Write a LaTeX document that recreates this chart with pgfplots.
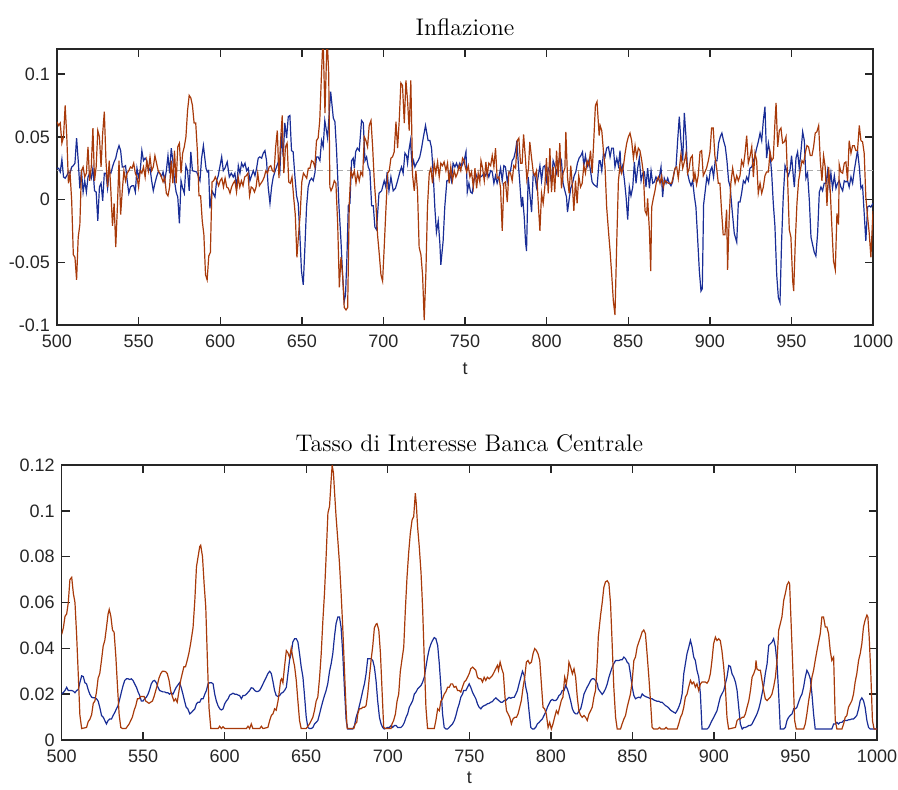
\documentclass[border=0pt]{standalone}
\usepackage{fontspec}
\usepackage{pgfplots}
\pgfplotsset{compat=1.18}
\newfontfamily\arialf{Liberation Sans}
\definecolor{bl}{RGB}{25,45,150}
\definecolor{orng}{RGB}{168,58,10}
\definecolor{axc}{RGB}{38,38,38}
\pgfplotsset{myax/.style={scale only axis, anchor=south west,
  xmin=500, xmax=1000, xtick={500,550,...,1000},
  axis line style={axc, line width=0.7pt},
  every tick/.style={axc, line width=0.7pt},
  major tick length=4pt, tick align=inside,
  ticklabel style={font=\arialf\fontsize{9}{10}\selectfont, text=axc},
  xticklabel style={yshift=-1.5pt},
  /pgf/number format/assume math mode=true,
  /pgf/number format/1000 sep={},
  scaled ticks=false,
  yticklabel style={/pgf/number format/fixed, /pgf/number format/precision=2},
  xlabel={t},
  xlabel style={font=\arialf\fontsize{9}{10}\selectfont, text=axc},
  title style={font=\fontsize{12}{14}\selectfont, yshift=-3pt},
}}
\begin{document}
\begin{tikzpicture}
\path[use as bounding box] (0,0) rectangle (449pt,394.5pt);
% ---------------- top -----------------
\begin{axis}[myax, at={(28.5pt,232pt)}, width=408pt, height=138pt,
  ymin=-0.1, ymax=0.12, ytick={-0.1,-0.05,0,0.05,0.1},
  xlabel style={yshift=-0.5pt},
  title={Inflazione}]
\addplot[gray!65, line width=0.4pt, dash pattern=on 3pt off 2pt] coordinates {(500,0.023)(1000,0.023)};
\addplot[bl, line width=0.6pt] coordinates {
(500,0.025)(501,0.025)(502,0.022)(503,0.032)(504,0.018)(505,0.017)(506,0.019)(507,0.022)(508,0.021)(509,0.026)
(510,0.027)(511,0.029)(512,0.049)(513,0.031)(514,0.009)(515,0.023)(516,0.006)(517,0.015)(518,0.006)(519,0.018)
(520,0.021)(521,0.017)(522,0.025)(523,0.007)(524,0.006)(525,-0.017)(526,0.010)(527,0.013)(528,-0.001)(529,0.021)
(530,0.021)(531,0.009)(532,0.022)(533,0.021)(534,0.026)(535,0.030)(536,0.033)(537,0.039)(538,0.043)(539,0.039)
(540,0.026)(541,0.026)(542,0.027)(543,0.015)(544,0.005)(545,0.010)(546,0.011)(547,0.011)(548,0.006)(549,0.025)
(550,0.018)(551,0.023)(552,0.039)(553,0.031)(554,0.033)(555,0.031)(556,0.023)(557,0.025)(558,0.015)(559,0.007)
(560,0.013)(561,0.018)(562,0.022)(563,0.021)(564,0.018)(565,0.022)(566,0.015)(567,0.023)(568,0.035)(569,0.021)
(570,0.041)(571,0.031)(572,0.015)(573,0.006)(574,0.002)(575,-0.019)(576,0.015)(577,0.009)(578,0.005)(579,0.027)
(580,0.023)(581,0.007)(582,0.038)(583,0.023)
(585.6,0.022)(587.6,0.015)(588.6,0.033)(589.7,0.043)(591.3,0.025)(592.1,0.022)(592.9,0.023)(593.7,-0.007)(595.0,0.007)(596.8,0.002)
(597.8,0.015)(598.8,0.019)(600.9,0.034)(601.9,0.023)(602.9,0.025)(604.3,0.030)(605.6,0.018)(606.8,0.021)(608.0,0.018)(609.0,0.021)
(610.1,0.009)(611.1,0.027)(612.1,0.021)(613.1,0.029)(614.1,0.026)(615.2,0.029)(616.2,0.023)(617.2,0.025)(618.2,0.015)(619.2,0.019)
(620.3,0.023)(621.3,0.019)(622.3,0.025)(623.3,0.033)(624.3,0.034)(625.4,0.033)(626.4,0.037)(627.4,0.039)(628.4,0.031)(629.4,0.010)
(630.5,-0.003)(631.5,0.010)(632.5,0.018)(633.5,0.022)(634.5,0.026)(635.6,0.030)(636.6,0.023)(637.6,0.053)(638.6,0.034)(639.6,0.061)
(640.7,0.049)(641.7,0.066)(642.7,0.067)(643.7,0.039)(644.7,0.038)(645.8,0.018)(646.8,0.003)(647.8,-0.003)(648.8,-0.028)(649.8,-0.057)
(650.9,-0.068)(651.9,-0.038)(652.9,-0.006)(653.9,0.010)(654.9,0.015)(656.0,0.017)(657.0,0.015)(658.0,0.021)(659.0,0.034)(660.0,0.034)
(661.1,0.031)(662.1,0.047)(663.1,0.042)(664.1,0.063)
(665.8,0.049)(667.7,0.086)(669.3,0.065)(670.3,0.062)(671.3,0.039)(672.8,-0.006)(674.0,-0.033)(675.0,-0.060)(676.0,-0.081)(676.8,-0.076)
(677.7,-0.044)(678.5,-0.005)(679.5,-0.003)(680.5,0.031)(681.5,0.033)(682.2,0.025)(683.0,0.038)(684.0,0.041)(685.2,0.039)(686.6,0.063)
(687.7,0.061)(688.7,0.031)(689.7,0.034)(690.7,0.026)(691.7,0.023)(692.8,-0.005)(693.8,-0.005)(694.8,-0.022)(695.8,-0.024)(697.3,0.005)
(698.9,0.007)(700.5,0.015)(701.5,0.010)(702.3,0.022)(703.4,0.007)(704.6,0.018)(706.0,0.007)(707.4,0.009)(708.7,0.015)(710.1,0.022)
(711.1,0.026)(712.1,0.021)(713.2,0.037)(714.2,0.035)(714.8,0.029)(715.6,0.039)(716.6,0.047)(717.6,0.026)(718.5,0.031)(719.3,0.026)
(720.3,0.029)(721.3,0.031)(722.3,0.034)(723.4,0.041)(724.4,0.049)(725.8,0.059)(727.4,0.047)(728.5,0.047)(729.5,0.041)(730.5,0.021)
(731.5,-0.006)(732.5,-0.026)(733.6,-0.017)(734.6,-0.035)(735.2,-0.052)(736.6,-0.033)(737.6,-0.006)(738.9,0.015)(739.7,0.015)(740.7,0.021)
(741.7,0.015)(742.7,0.029)(743.8,0.026)(744.8,0.029)(745.8,0.025)(746.8,0.029)(747.8,0.026)(749.5,0.031)
(750.6,0.038)(751.4,0.006)(752.4,0.013)(753.4,0.006)(754.4,0.005)(755.5,0.015)(756.5,0.021)(757.5,0.017)(758.5,0.019)(759.5,0.018)
(760.6,0.019)(761.6,0.021)(762.6,0.019)(763.6,0.022)(764.6,0.018)(765.7,0.023)(766.7,0.022)(767.7,0.013)(768.7,0.019)(769.7,0.013)
(770.8,0.018)(771.8,0.025)(772.8,0.015)(773.8,0.027)(774.8,0.026)(775.9,0.014)(776.9,0.021)(777.9,0.023)(778.9,0.031)(779.9,0.033)
(781.0,0.039)(781.8,0.047)(782.6,0.030)(783.6,0.013)(784.6,-0.006)(785.3,0.002)(786.3,-0.014)(787.1,-0.034)(787.7,-0.041)(788.7,0.018)
(789.7,0.005)(790.8,-0.010)(791.8,0.021)(792.8,0.019)(793.8,0.010)(794.8,0.018)(795.9,0.027)(796.9,0.015)(797.9,0.026)(798.9,0.027)
(799.9,0.015)(801.0,0.025)(802.0,0.022)(803.0,0.013)(804.0,0.031)(805.0,0.027)(806.1,0.021)(807.1,0.027)(808.1,0.035)(809.1,0.031)
(810.1,0.013)(811.2,0.007)(812.2,0.002)(812.8,-0.010)(813.8,0.000)(814.8,0.009)(815.9,0.013)(816.9,0.019)(817.9,0.022)(818.9,0.029)
(819.9,0.033)(821.0,0.035)(822.0,0.038)(822.8,0.027)(823.8,0.035)(824.8,0.026)(825.9,0.031)(826.9,0.023)(827.9,0.014)(828.9,0.012)
(829.9,0.011)(830.9,0.010)(832.2,0.031)
(832.8,0.031)(833.8,0.023)(834.8,0.037)(835.8,0.034)(836.8,0.041)(837.9,0.042)(838.9,0.034)(839.9,0.041)(840.9,0.041)(841.9,0.026)
(843.0,0.033)(844.0,0.027)(845.0,0.039)(845.6,0.023)(846.6,0.027)(847.7,0.015)(848.7,0.002)(849.7,-0.016)(850.7,0.010)(851.7,0.003)
(852.8,0.010)(853.8,0.030)(854.8,0.013)(855.8,0.025)(856.8,0.033)(857.9,0.015)(858.9,0.021)(859.9,0.022)(860.9,0.010)(861.9,0.025)
(863.0,0.009)(864.0,0.023)(865.0,0.013)(866.0,0.014)(867.0,0.018)(868.1,0.015)(869.1,0.018)(870.1,0.026)(871.1,0.002)(872.1,0.017)
(873.2,0.013)(874.2,0.017)(875.2,0.013)(876.2,0.011)(877.2,0.014)(878.3,0.023)(879.3,0.026)(880.3,0.047)(881.3,0.066)(882.3,0.047)
(883.4,0.031)(884.4,0.069)(885.4,0.050)(886.4,0.021)(887.4,0.015)(888.5,0.011)(889.5,0.015)(890.5,0.003)(891.5,-0.006)(892.5,-0.030)
(893.6,-0.057)(894.6,-0.073)(895.4,-0.071)(896.2,-0.004)(897.2,0.007)(898.2,0.018)(899.3,0.013)(900.3,0.023)(901.3,0.026)(902.3,0.018)
(903.3,0.031)(904.4,0.031)(905.4,0.045)(906.4,0.050)(907.4,0.053)(908.4,0.047)(909.5,0.042)(910.5,0.031)(911.5,0.015)(912.5,0.010)
(913.5,-0.006)(915.0,-0.027)
(916.5,-0.034)(917.5,-0.002)(918.5,-0.002)(919.5,0.005)(920.6,0.015)(921.6,0.013)(922.6,0.018)(923.6,0.015)(924.6,0.025)(925.7,0.026)
(926.7,0.031)(927.7,0.035)(928.7,0.041)(929.7,0.046)(930.8,0.053)(931.8,0.047)(932.8,0.063)(933.8,0.074)(934.8,0.033)(935.9,0.045)
(936.9,0.037)(937.9,0.021)(938.9,-0.003)(939.9,-0.021)(941.0,-0.060)(942.0,-0.078)(943.0,-0.082)(944.0,-0.033)(945.0,0.002)(946.1,0.027)
(947.1,0.023)(948.1,0.019)(949.1,0.023)(950.1,0.035)(951.2,0.018)(951.8,0.010)(952.8,0.033)(953.8,0.038)(954.8,0.025)(955.9,0.039)
(956.9,0.054)(957.9,0.047)(958.9,0.017)(959.9,0.021)(961.0,-0.001)(962.0,-0.030)(963.0,-0.036)(964.0,-0.042)(965.0,-0.045)(966.1,-0.026)
(967.1,0.006)(968.1,0.010)(969.1,0.007)(970.1,0.013)(971.2,0.013)(972.2,0.023)(973.2,0.010)(974.2,0.021)(975.2,0.009)(976.3,0.019)
(977.3,0.009)(978.3,0.013)(979.3,0.015)(980.3,0.010)(981.4,0.007)(982.4,0.015)(983.4,0.014)(984.4,0.015)(985.4,0.010)(986.5,0.018)
(987.5,0.013)(988.5,0.023)(989.5,0.031)(990.5,0.039)(991.6,0.026)(992.6,0.009)(993.6,0.011)(994.6,-0.011)(995.6,-0.033)(996.7,-0.006)
(997.7,-0.005)(998.7,-0.006)(1000,-0.003)
};
\addplot[orng, line width=0.6pt] coordinates {
(500,0.062)(501,0.059)(502,0.061)(503,0.045)(504,0.050)(505,0.075)(506,0.050)(507,0.013)(508,0.021)(509,-0.001)
(510,-0.044)(511,-0.046)(512,-0.064)(513,-0.030)(514,-0.020)(515,0.023)(516,0.026)(517,0.018)(518,0.021)(519,0.042)
(520,0.015)(521,0.026)(522,0.057)(523,0.015)(524,0.026)(525,0.055)(526,0.050)(527,0.026)(528,0.053)(529,0.070)
(530,0.031)(531,0.010)(532,0.031)(533,0.007)(534,-0.021)(535,-0.003)(536,-0.038)(537,-0.006)(538,0.031)(539,-0.012)
(540,0.007)(541,0.023)(542,0.015)(543,0.021)(544,0.023)(545,0.026)(546,0.025)(547,0.029)(548,0.021)(549,0.018)
(550,0.010)(551,0.023)(552,0.021)(553,0.026)(554,0.018)(555,0.031)(556,0.023)(557,0.034)(558,0.023)(559,0.026)
(560,0.035)(561,0.029)(562,0.023)(563,0.021)(564,0.018)(565,0.014)(566,0.018)(567,0.005)(568,0.003)(569,0.010)
(570,0.031)(571,0.013)(572,0.039)(573,0.013)(574,0.042)(575,0.045)(576,0.021)(577,0.037)(578,0.042)(579,0.050)
(580,0.071)(581,0.083)(582,0.081)(583,0.075)(584,0.061)(585,0.061)(586,0.039)(587,0.003)(588,0.003)(589,-0.017)
(590,-0.028)(591,-0.060)(592,-0.064)(593,-0.045)(594,-0.042)(595,0.014)(596,0.015)(597,0.018)(598,0.015)(599,0.011)
(600,0.015)(601,0.017)(602,0.010)(603,0.017)(604,0.010)(605,0.009)(606,0.005)(607,0.010)(608,0.013)(609,0.015)
(610,0.006)(611,0.018)(612,0.010)(613,0.015)(614,0.011)(615,0.018)(616,0.019)(617,0.021)(618,0.003)(619,0.010)
(620,0.009)(621,0.006)(622,0.010)(623,0.021)(624,0.011)(625,0.013)(626,0.015)(627,0.018)(628,0.023)(629,0.021)
(630,0.026)(631,0.027)(632,0.023)(633,0.022)(634,0.042)(635,0.055)(636,0.017)(637,0.047)(638,0.067)(639,0.021)
(640,0.042)(641,0.045)(642,0.014)(643,0.013)(644,0.018)(645,0.002)(646,-0.012)(647,-0.046)(648,-0.028)(649,-0.012)
(650,0.014)(651,0.021)(652,0.019)(653,0.017)(654,0.025)(655,0.025)(656,0.031)(657,0.030)(658,0.026)(659,0.047)
(660,0.049)(661,0.063)(662,0.098)(663,0.130)(664.2,0.069)(665.5,0.130)(666.5,0.100)(667.2,0.010)
(667.9,0.007)(668.9,0.010)(669.9,0.015)(670.9,0.013)(672.0,-0.020)(673.0,-0.070)(674.0,-0.046)(675.0,-0.060)(676.0,-0.086)(677.1,-0.088)
(678.1,-0.086)(679.1,-0.003)(680.1,0.023)(681.1,0.018)(682.2,0.023)(683.2,0.013)(684.2,0.021)(685.2,0.015)(686.2,0.022)(687.3,0.019)
(688.3,0.050)(689.3,0.047)(690.3,0.042)(691.3,0.059)(692.4,0.063)(693.4,0.042)(694.4,0.015)(695.4,-0.003)(696.4,-0.028)(697.5,-0.044)
(698.5,-0.060)(699.5,-0.065)(700.5,-0.038)(701.5,-0.009)(702.6,0.021)(703.6,0.023)(704.6,0.033)(705.6,0.034)(706.6,0.038)(707.7,0.062)
(708.7,0.041)(709.7,0.063)(710.7,0.093)(711.7,0.091)(712.8,0.061)(713.8,0.095)(714.8,0.079)(715.8,0.055)(716.8,0.095)(717.9,0.019)
(718.9,0.007)(719.9,0.023)(720.9,0.007)(721.9,-0.038)(723.0,-0.044)(724.0,-0.060)(725.0,-0.096)(726.0,-0.060)(727.0,-0.006)(728.1,0.021)
(729.1,0.025)(730.1,0.013)(731.1,0.029)(732.1,0.021)(733.2,0.030)(734.2,0.018)(735.2,0.029)(736.2,0.027)(737.2,0.030)(738.3,0.023)
(739.3,0.029)(740.3,0.013)(741.3,0.026)(742.3,0.015)(743.4,0.023)(744.4,0.018)(745.4,0.021)(746.4,0.027)(747.4,0.023)(748.5,0.033)
(749.5,0.031)
(750.0,0.027)(751.0,0.022)(752.0,0.027)(753.0,0.018)(754.0,0.022)(755.1,0.010)(756.1,0.025)(757.1,0.009)(758.1,0.021)(759.1,0.014)
(759.8,0.031)(760.8,0.025)(761.8,0.015)(762.8,0.030)(763.6,0.019)(764.6,0.029)(765.7,0.027)(766.7,0.035)(767.7,0.026)(768.7,0.041)
(769.7,0.017)(770.8,0.018)(771.8,0.009)(772.8,-0.025)(773.8,0.013)(774.8,0.014)(775.9,-0.002)(776.9,0.022)(777.9,0.021)(778.9,0.015)
(779.9,0.027)(781.0,0.025)(782.0,0.047)(783.0,0.049)(784.0,0.029)(785.0,0.029)(785.9,0.052)(786.9,0.035)(787.9,0.016)(788.9,0.025)
(789.7,0.046)(790.8,0.033)(791.8,0.022)(792.8,0.019)(793.8,0.023)(794.8,-0.001)(795.9,-0.025)(796.9,0.005)(797.9,-0.003)(798.9,0.010)
(799.9,0.033)(801.0,0.005)(802.0,0.041)(803.0,0.006)(804.0,0.026)(805.0,0.006)(806.1,0.039)(807.1,0.018)(808.1,0.045)(809.1,0.009)
(810.1,0.021)(811.2,0.025)(811.8,0.054)(812.8,0.018)(813.8,0.005)(814.8,0.027)(815.9,0.009)(816.7,-0.009)(817.7,0.015)(818.7,-0.003)
(819.7,0.019)(820.8,0.010)(821.8,0.013)(822.8,0.027)(823.8,0.021)(824.8,0.031)(825.9,0.027)(826.9,0.039)(827.9,0.021)(828.9,0.047)
(829.9,0.075)(830.9,0.078)(832.2,0.051)
(832.8,0.059)(833.8,0.055)(834.8,0.039)(835.8,0.026)(836.8,-0.006)(837.9,-0.025)(838.9,-0.041)(839.9,-0.060)(840.9,-0.081)(841.9,-0.092)
(843.0,-0.033)(844.0,0.015)(845.0,0.027)(846.0,0.021)(847.0,0.026)(848.1,0.037)(849.1,0.045)(850.1,0.050)(851.1,0.053)(852.1,0.047)
(853.2,0.033)(854.2,0.043)(855.2,0.034)(856.2,0.041)(857.2,0.039)(858.3,0.031)(859.3,0.021)(860.3,-0.009)(861.3,-0.012)(861.9,0.001)
(863.0,-0.025)(863.8,-0.057)(864.4,-0.006)(865.4,0.001)(866.4,0.007)(867.4,0.015)(868.5,0.018)(869.5,0.013)(870.5,0.019)(871.5,0.010)
(872.5,0.015)(873.6,0.014)(874.6,0.013)(875.6,0.013)(876.6,0.013)(877.6,0.018)(878.7,0.025)(879.7,0.026)(880.7,0.017)(881.7,0.029)
(882.3,0.036)(883.4,0.025)(884.4,0.030)(885.4,0.037)(886.4,0.021)(887.4,0.025)(888.2,0.033)(889.3,0.035)(890.1,0.014)(890.9,0.021)
(891.9,0.012)(892.9,0.019)(894.0,0.038)(895.0,0.039)(896.0,0.019)(897.0,0.022)(898.0,0.025)(899.1,0.031)(900.1,0.038)(901.1,0.057)
(902.1,0.057)(903.1,0.035)(904.2,0.025)(905.2,0.013)(906.2,0.013)(907.2,-0.009)(908.2,-0.028)(909.3,-0.028)(910.3,-0.008)(910.9,-0.056)
(911.9,-0.014)(912.9,0.013)(914.0,0.025)
(915.5,0.013)(916.5,0.019)(917.5,0.015)(918.5,0.019)(919.5,0.031)(920.6,0.027)(921.6,0.037)(922.6,0.051)(923.6,0.029)(924.6,0.034)
(925.7,0.042)(926.7,0.018)(927.7,0.037)(928.7,0.031)(929.7,0.005)(930.8,0.013)(931.8,0.005)(932.8,0.010)(933.8,0.019)(934.8,0.022)
(935.9,0.022)(936.9,0.038)(937.9,0.031)(938.9,0.033)(939.9,0.061)(940.6,0.077)(941.6,0.042)(942.6,0.055)(943.6,0.057)(944.6,0.045)
(945.7,0.046)(946.7,0.050)(947.7,0.015)(948.7,-0.024)(949.7,-0.030)(950.8,-0.065)(951.4,-0.073)(952.4,-0.033)(953.4,-0.003)(954.4,0.015)
(955.4,0.023)(956.5,0.031)(957.5,0.029)(958.5,0.037)(959.5,0.043)(960.5,0.042)(961.6,0.035)(962.6,0.035)(963.6,0.042)(964.6,0.053)
(965.6,0.054)(966.7,0.059)(967.7,0.031)(968.7,0.015)(969.7,0.035)(970.7,0.026)(971.8,-0.005)(972.8,0.026)(973.8,0.007)(974.8,-0.022)
(975.8,-0.049)(976.9,-0.056)(977.9,-0.011)(978.9,-0.020)(979.3,0.028)(980.3,0.022)(981.4,0.021)(982.4,0.029)(983.4,0.030)(984.4,0.015)
(985.4,0.047)(986.5,0.037)(987.5,0.043)(988.5,0.043)(989.5,0.039)(990.5,0.039)(991.6,0.059)(992.6,0.047)(993.6,0.046)(994.6,0.037)
(995.6,0.002)(996.7,-0.014)(997.7,-0.027)(998.7,-0.046)(1000,-0.009)
};
\end{axis}
% ---------------- bottom -----------------
\begin{axis}[myax, at={(30.8pt,24.5pt)}, width=407.7pt, height=137.5pt,
  ymin=0, ymax=0.12, ytick={0,0.02,0.04,0.06,0.08,0.1,0.12},
  xlabel style={yshift=2.5pt},
  title={Tasso di Interesse Banca Centrale}]
\addplot[bl, line width=0.6pt] coordinates {
(500.0,0.020)(501.1,0.0208)(502.1,0.0216)(503.1,0.023)(504.1,0.0216)(505.1,0.0216)(506.2,0.0216)(507.2,0.0213)(508.2,0.0206)(509.2,0.0216)
(510.2,0.022)(511.2,0.025)(512.3,0.028)(513.3,0.0277)(514.3,0.025)(515.3,0.0245)(516.3,0.022)(517.3,0.020)(518.4,0.0187)(519.4,0.0184)
(520.4,0.0184)(521.4,0.018)(522.4,0.017)(523.4,0.0143)(524.5,0.0107)(525.5,0.010)(526.5,0.0085)(527.5,0.007)(528.5,0.0085)(529.6,0.0092)
(530.6,0.0092)(531.6,0.0107)(532.6,0.012)(533.6,0.0136)(534.6,0.015)(535.7,0.018)(536.7,0.021)(537.7,0.0238)(538.7,0.026)(539.7,0.0267)
(540.8,0.0267)(541.8,0.0264)(542.8,0.0267)(543.8,0.026)(544.8,0.0245)(545.9,0.023)(546.9,0.021)(547.9,0.0194)(548.9,0.017)(549.9,0.017)
(550.9,0.018)(552.0,0.0187)(553.0,0.020)(554.0,0.022)(555.0,0.0245)(556.0,0.0257)(557.0,0.026)(558.1,0.025)(559.1,0.023)(560.1,0.0216)
(561.1,0.0213)(562.1,0.021)(563.2,0.021)(564.2,0.0206)(565.2,0.0206)(566.2,0.020)(567.2,0.0206)(568.3,0.020)(569.3,0.0216)(570.3,0.023)
(571.3,0.024)(572.3,0.025)(573.3,0.023)(574.4,0.020)(575.4,0.017)(576.4,0.0143)(577.4,0.0136)
(578.6,0.0114)(579.6,0.012)(580.6,0.0128)(581.7,0.0136)(582.7,0.0158)(583.7,0.0165)(584.7,0.0165)(585.7,0.018)(586.8,0.018)(587.8,0.020)
(588.8,0.0216)(589.8,0.0245)(590.8,0.025)(591.9,0.025)(592.9,0.0245)(593.9,0.020)(594.9,0.017)(595.9,0.015)(597.0,0.0136)(598.0,0.0131)
(599.0,0.0136)(600.0,0.0158)(601.0,0.017)(602.1,0.018)(603.1,0.0196)(604.1,0.020)(605.1,0.0204)(606.2,0.020)(607.2,0.020)(608.2,0.0196)
(609.2,0.0194)(610.2,0.018)(611.2,0.0194)(612.3,0.0194)(613.3,0.020)(614.3,0.0208)(615.3,0.0216)(616.3,0.0228)(617.4,0.0226)(618.4,0.0216)
(619.4,0.0212)(620.4,0.0212)(621.4,0.0216)(622.5,0.023)(623.5,0.0245)(624.5,0.026)(625.5,0.0274)(626.5,0.029)(627.6,0.030)(628.6,0.029)
(629.6,0.0255)(630.6,0.0216)(631.6,0.0194)(632.7,0.019)(633.7,0.0194)(634.7,0.0204)(635.7,0.0208)(636.7,0.0216)(637.8,0.023)(638.8,0.029)
(639.8,0.035)(640.8,0.0377)(641.8,0.0428)(642.9,0.0442)(643.9,0.0442)(644.9,0.0428)(645.9,0.0377)(646.9,0.032)(648.0,0.0274)(649.0,0.019)
(650.0,0.010)(651.0,0.0055)(652.0,0.005)(653.1,0.005)(654.1,0.0055)(655.1,0.007)(656.1,0.0077)(657.1,0.0085)(658.2,0.0114)(659.2,0.0143)
(660.2,0.017)(661.2,0.0194)(662.2,0.0216)(663.2,0.0245)
(664.3,0.030)(665.3,0.0333)(666.3,0.0377)(667.3,0.045)(668.3,0.0508)(669.4,0.0537)(670.4,0.0537)(671.4,0.049)(672.4,0.0377)(673.4,0.023)
(674.5,0.0085)(675.5,0.0048)(678.5,0.0048)(679.6,0.0063)(680.6,0.0099)(681.6,0.0121)(682.6,0.015)(683.6,0.018)(684.7,0.0216)(685.7,0.0245)
(686.7,0.0289)(687.7,0.0355)(688.7,0.0355)(689.8,0.0355)(690.8,0.0347)(691.8,0.0318)(692.8,0.026)(693.8,0.0172)(694.9,0.0099)(695.9,0.007)
(696.9,0.0055)(697.9,0.0048)(699.9,0.0055)(701.0,0.0055)(702.0,0.0063)(703.0,0.0055)(704.1,0.0063)(705.1,0.0063)(706.1,0.0055)(708.1,0.0055)
(709.2,0.0063)(710.2,0.0077)(711.2,0.0099)(712.2,0.0114)(713.2,0.0143)(714.3,0.0158)(715.3,0.0172)(716.3,0.0201)(717.3,0.0209)(718.3,0.0223)
(719.3,0.023)(720.4,0.0238)(721.4,0.0253)(722.4,0.0274)(723.4,0.0318)(724.4,0.0362)(725.5,0.0399)(726.5,0.042)(727.5,0.0435)(728.5,0.0447)
(729.5,0.0442)(730.6,0.0413)(731.6,0.0333)(732.6,0.0231)(733.6,0.0114)(734.6,0.0055)(735.7,0.0048)(736.7,0.0048)(737.7,0.0055)(738.7,0.0063)
(739.7,0.007)(740.8,0.0085)(741.8,0.0107)(742.8,0.0136)(743.8,0.0158)(744.8,0.0187)(745.9,0.0201)(746.5,0.0216)
(747.9,0.0216)(748.9,0.023)(749.9,0.0245)(750.9,0.023)(752.0,0.0208)(753.0,0.0194)(754.0,0.018)(755.0,0.0158)(756.0,0.0143)(757.1,0.0136)
(758.1,0.0146)(759.1,0.015)(760.1,0.0153)(761.1,0.0158)(762.2,0.016)(763.2,0.0165)(764.2,0.0168)(765.2,0.0177)(766.3,0.0184)(767.3,0.0177)
(768.3,0.0171)(769.3,0.0165)(770.3,0.0165)(771.4,0.0172)(772.4,0.0172)(773.4,0.018)(774.4,0.0186)(775.4,0.0182)(776.5,0.0186)(777.5,0.0186)
(778.5,0.020)(779.5,0.0216)(780.5,0.0245)(781.6,0.0274)(782.6,0.030)(783.6,0.0282)(784.6,0.0231)(785.6,0.020)(786.6,0.0128)(787.7,0.0055)
(788.7,0.0048)(789.7,0.0048)(790.7,0.0055)(791.7,0.007)(792.8,0.0077)(793.8,0.0085)(794.8,0.0092)(795.8,0.0107)(796.8,0.0121)(797.9,0.0143)
(798.9,0.0158)(799.9,0.0172)(800.9,0.0177)(801.9,0.0172)(803.0,0.0172)(804.0,0.018)(805.0,0.0194)(806.0,0.020)(807.0,0.0216)(808.1,0.0216)
(809.1,0.0238)(810.1,0.0223)(811.1,0.020)(812.1,0.0172)(813.2,0.0136)(814.2,0.0121)(815.2,0.0114)(816.2,0.0114)(817.2,0.0126)(818.3,0.0136)
(819.3,0.0165)(820.3,0.020)(821.3,0.0216)(822.3,0.0231)(823.4,0.0245)(824.4,0.026)(825.4,0.0267)(826.4,0.0267)(827.4,0.026)(828.5,0.0245)
(829.1,0.0223)
(830.5,0.0209)(831.5,0.0199)(832.5,0.0209)(833.5,0.0223)(834.6,0.0245)(835.6,0.0274)(836.6,0.0296)(837.6,0.0318)(838.6,0.0333)(839.7,0.0347)
(840.7,0.0347)(841.7,0.0347)(842.7,0.035)(843.7,0.035)(844.8,0.0362)(845.8,0.0355)(846.8,0.034)(847.8,0.0333)(848.8,0.0289)(849.9,0.0231)
(850.9,0.0194)(851.9,0.018)(852.9,0.0184)(853.9,0.0187)(855.0,0.0184)(856.0,0.0201)(857.0,0.0194)(858.0,0.019)(859.0,0.0187)(860.1,0.0184)
(861.1,0.018)(862.1,0.018)(863.1,0.0175)(864.1,0.0172)(865.2,0.0169)(866.2,0.0169)(867.2,0.0165)(868.2,0.0165)(869.2,0.0158)(870.3,0.015)
(871.3,0.0146)(872.3,0.014)(873.3,0.0131)(874.3,0.0126)(875.4,0.0121)(876.4,0.0117)(877.4,0.0128)(878.4,0.0143)(879.5,0.0165)(880.5,0.0201)
(881.5,0.0289)(882.5,0.0333)(883.5,0.0377)(884.6,0.0406)(885.6,0.0435)(886.6,0.0406)(887.6,0.0362)(888.6,0.0347)(889.6,0.0304)(890.7,0.0274)
(891.7,0.0201)(892.7,0.0048)(895.8,0.0048)(896.8,0.0055)(897.8,0.007)(898.8,0.0085)(899.9,0.0099)(900.9,0.0114)(901.9,0.0128)(902.9,0.0158)
(903.9,0.0187)(904.9,0.0201)(906.0,0.0216)(907.0,0.0245)(908.0,0.0274)
(909.1,0.0325)(910.1,0.0321)(911.1,0.0289)(912.2,0.0274)(913.2,0.0253)(914.2,0.0216)(915.2,0.0143)(916.2,0.007)(917.3,0.0048)(918.3,0.0055)
(919.3,0.0055)(920.3,0.0058)(921.3,0.0063)(922.4,0.0063)(923.4,0.007)(924.4,0.0085)(925.4,0.0099)(926.4,0.0114)(927.5,0.0136)(928.5,0.0165)
(929.5,0.0201)(930.5,0.0237)(931.5,0.0289)(932.6,0.0333)(933.6,0.0413)(934.6,0.042)(935.6,0.0427)(936.6,0.0442)(937.7,0.0406)(938.7,0.0333)
(939.7,0.0201)(940.7,0.0048)(942.8,0.0048)(943.8,0.0055)(944.8,0.0085)(945.8,0.0099)(946.8,0.0107)(947.9,0.0114)(948.9,0.0136)(949.9,0.0136)
(950.9,0.0143)(951.9,0.0165)(953.0,0.0187)(954.0,0.0201)(955.0,0.0231)(956.0,0.0274)(957.0,0.0304)(958.1,0.0289)(959.1,0.0267)(960.1,0.0201)
(961.1,0.0114)(962.1,0.0048)(972.3,0.0048)(973.4,0.007)(974.4,0.007)(975.4,0.0077)(976.4,0.007)(977.4,0.0077)(978.5,0.0077)(979.5,0.0085)
(980.5,0.0085)(981.5,0.0085)(982.5,0.0088)(983.6,0.0089)(984.6,0.0092)(985.6,0.0092)(986.6,0.0099)(987.6,0.0107)(988.7,0.0136)(989.7,0.0172)
(990.7,0.0184)(991.7,0.0172)(992.7,0.0143)(993.8,0.0085)(994.8,0.0055)(995.8,0.0048)(1000,0.0048)
};
\addplot[orng, line width=0.6pt] coordinates {
(500.0,0.046)(501.1,0.049)(502.1,0.054)(503.1,0.055)(504.1,0.060)(505.1,0.070)(506.2,0.071)(507.2,0.064)(508.2,0.060)(509.2,0.046)
(510.2,0.029)(511.2,0.011)(512.3,0.005)(515.3,0.0055)(516.3,0.008)(517.3,0.009)(518.4,0.011)(519.4,0.016)(520.4,0.017)(521.4,0.021)
(522.4,0.027)(523.4,0.029)(524.5,0.035)(525.5,0.041)(526.5,0.0435)(527.5,0.049)(528.5,0.055)(529.2,0.057)(530.2,0.054)(531.2,0.048)
(532.2,0.047)(533.3,0.036)(534.3,0.023)(535.3,0.011)(536.3,0.0055)(537.3,0.005)(539.4,0.005)(540.4,0.006)(541.4,0.007)(542.4,0.0085)
(543.4,0.010)(544.5,0.013)(545.5,0.015)(546.5,0.018)(547.5,0.018)(548.5,0.019)(549.6,0.019)(550.6,0.019)(551.6,0.017)(552.6,0.0165)
(553.6,0.016)(554.6,0.0165)(555.7,0.017)(556.7,0.019)(557.7,0.0215)(558.7,0.024)(559.7,0.027)(560.8,0.029)(561.8,0.030)(562.8,0.030)
(563.8,0.0298)(564.8,0.029)(565.9,0.026)(566.9,0.0215)(567.9,0.019)(568.9,0.017)(569.9,0.018)(570.9,0.0165)(572.0,0.0215)(573.0,0.026)
(574.0,0.029)(575.0,0.032)(576.0,0.032)(577.1,0.035)(578.1,0.038)(579.1,0.042)
(580.6,0.049)(581.7,0.061)(582.7,0.0756)(583.7,0.080)(584.7,0.0844)(585.3,0.085)(586.4,0.080)(587.4,0.068)(588.4,0.058)(589.4,0.035)
(590.4,0.014)(591.5,0.005)(596.0,0.005)(596.9,0.006)(598.0,0.005)(599.0,0.0058)(600.0,0.005)(613.3,0.005)(614.3,0.006)(615.3,0.005)
(616.3,0.007)(617.3,0.005)(621.5,0.005)(622.5,0.006)(623.5,0.005)(626.5,0.0055)(627.6,0.0085)(628.6,0.0107)(629.6,0.0114)(630.6,0.0136)
(631.6,0.013)(632.7,0.017)(633.3,0.020)(634.3,0.026)(634.9,0.0267)(635.7,0.025)(636.7,0.032)(637.8,0.039)(638.8,0.038)(639.8,0.036)
(640.8,0.040)(641.8,0.036)(642.9,0.032)(643.9,0.026)(644.9,0.017)(645.9,0.0085)(646.9,0.005)(650.0,0.005)(651.0,0.006)(652.0,0.007)
(653.1,0.0085)(654.1,0.010)(655.1,0.013)(656.1,0.017)(657.1,0.0187)(658.2,0.0273)(659.2,0.0377)(660.2,0.052)(661.2,0.064)(662.2,0.080)
(663.3,0.099)(664.3,0.102)(665.3,0.1136)(665.9,0.120)(666.7,0.1165)(667.3,0.109)(668.3,0.0975)(669.4,0.087)(670.4,0.077)(671.4,0.064)
(672.4,0.049)(673.4,0.0314)(674.5,0.0124)(675.1,0.005)(679.2,0.005)(680.0,0.007)(681.0,0.0077)(681.6,0.0114)(682.6,0.0136)(683.6,0.0136)
(684.7,0.0143)(685.7,0.0143)(686.7,0.015)(687.7,0.020)(688.7,0.0274)(689.8,0.035)(690.8,0.041)(691.8,0.049)(692.8,0.0505)(693.4,0.0508)
(694.5,0.048)(695.5,0.038)(696.5,0.0216)(697.5,0.0055)(698.5,0.005)(702.0,0.005)(702.6,0.007)(703.6,0.0085)(704.7,0.0114)(705.7,0.017)
(706.7,0.020)(707.7,0.030)(708.7,0.035)(709.8,0.0406)(710.8,0.057)(711.8,0.071)(712.8,0.0815)(713.8,0.090)(714.9,0.096)(715.9,0.0975)
(716.9,0.1077)(717.5,0.103)(718.3,0.093)(719.3,0.0845)(720.4,0.073)(721.4,0.057)(722.4,0.035)(723.4,0.0143)(724.4,0.005)(728.5,0.005)
(729.5,0.0085)(730.6,0.0136)(731.6,0.0128)(732.6,0.017)(733.6,0.018)(734.6,0.020)(735.6,0.021)(736.7,0.023)(737.7,0.023)(738.7,0.0245)
(739.7,0.0245)(740.7,0.023)(741.8,0.0234)(742.8,0.0216)
(743.8,0.0216)(744.8,0.0209)(745.8,0.0231)(746.9,0.0253)(747.9,0.026)(748.9,0.0274)(749.9,0.0289)(750.9,0.0311)(752.0,0.0318)(753.0,0.0311)
(754.0,0.0304)(755.0,0.0274)(756.0,0.0267)(757.1,0.0267)(758.1,0.0253)(759.1,0.0274)(760.1,0.026)(761.1,0.0274)(762.2,0.0267)(763.2,0.0274)
(764.2,0.0282)(765.2,0.0296)(766.2,0.0311)(767.3,0.0326)(767.9,0.0304)(768.9,0.034)(769.9,0.0311)(770.9,0.0289)(771.9,0.0187)(772.8,0.0128)
(773.8,0.0114)(774.8,0.0099)(775.8,0.007)(776.8,0.0092)(777.9,0.0099)(778.9,0.0099)(779.9,0.0114)(780.9,0.0143)(781.9,0.0172)(783.0,0.0231)
(784.0,0.0274)(785.0,0.034)(786.0,0.0347)(787.0,0.0333)(788.1,0.034)(789.1,0.0377)(790.1,0.0399)(791.1,0.0391)(792.1,0.0377)(793.2,0.0347)
(794.2,0.0245)(795.2,0.0143)(796.2,0.0136)(797.2,0.0114)(798.3,0.0055)(799.3,0.0077)(800.3,0.0048)(801.3,0.007)(802.3,0.0099)(803.4,0.0128)
(804.4,0.0114)(805.4,0.0143)(806.4,0.0172)(807.4,0.0187)(808.5,0.0274)(809.5,0.0245)(810.5,0.0289)(811.1,0.034)(812.1,0.0318)(813.2,0.0289)
(814.2,0.0311)(815.2,0.0274)(816.2,0.0187)(817.2,0.0128)(818.3,0.0107)(819.3,0.0099)(820.3,0.0107)(821.3,0.0099)(822.3,0.0085)(823.4,0.0114)
(824.4,0.0128)(825.4,0.0143)(826.4,0.0187)(827.4,0.0216)(828.5,0.0347)(829.1,0.045)
(830.5,0.0545)(831.5,0.060)(832.5,0.0666)(833.5,0.069)(834.6,0.0695)(835.6,0.0683)(836.6,0.0596)(837.6,0.042)(838.6,0.0231)(839.7,0.0099)
(840.7,0.0048)(842.7,0.0048)(843.7,0.007)(844.8,0.0092)(845.8,0.0107)(846.8,0.0143)(847.8,0.0172)(848.8,0.020)(849.9,0.0259)(850.9,0.0347)
(851.9,0.0362)(852.9,0.0405)(853.9,0.0427)(855.0,0.0449)(856.0,0.0472)(857.0,0.048)(858.0,0.0464)(859.0,0.0377)(860.1,0.0274)(861.1,0.017)
(862.1,0.0055)(863.1,0.0048)(865.6,0.0048)(866.6,0.0055)(867.6,0.0048)(869.7,0.0048)(870.7,0.0055)(871.7,0.0048)(877.4,0.0048)(878.4,0.007)
(879.5,0.0099)(880.5,0.0114)(881.5,0.0143)(882.5,0.0187)(883.5,0.020)(884.5,0.0231)(885.6,0.026)(886.6,0.0245)(887.6,0.0253)(888.6,0.0231)
(889.6,0.0245)(890.7,0.0216)(891.7,0.0245)(892.7,0.0253)(893.7,0.0253)(894.7,0.0253)(895.8,0.0248)(896.8,0.026)(897.8,0.0289)(898.8,0.0347)
(899.8,0.042)(900.9,0.0449)(901.9,0.0434)(902.9,0.0442)(903.9,0.0434)(904.9,0.039)(906.0,0.0318)(907.0,0.0231)(908.0,0.0099)(909.0,0.0048)
(913.2,0.0055)(914.2,0.0085)(915.2,0.0092)(916.2,0.0092)(917.3,0.0099)(918.3,0.0099)(919.3,0.0114)(920.3,0.0143)(921.4,0.0172)(922.4,0.0216)
(923.4,0.0274)(924.4,0.0289)(925.4,0.031)(925.8,0.0347)(926.4,0.031)(927.5,0.0304)(928.5,0.0304)(929.5,0.026)(930.5,0.0216)(931.5,0.018)
(932.6,0.0172)(933.6,0.018)(934.6,0.0187)(935.6,0.0201)(936.6,0.0231)(937.7,0.0274)(938.7,0.0347)(939.7,0.0479)(940.7,0.0508)(941.7,0.0537)
(942.8,0.061)(943.8,0.064)(944.8,0.0676)(945.8,0.069)(946.4,0.0683)(947.5,0.0479)(948.5,0.0289)(949.5,0.0085)(950.5,0.0048)(955.0,0.0048)
(956.0,0.007)(957.0,0.0114)(958.1,0.0172)(959.1,0.0216)(960.1,0.0274)(961.1,0.0304)(962.1,0.0347)(963.2,0.0391)(964.2,0.0428)(965.2,0.0464)
(966.2,0.0537)(967.2,0.0537)(968.3,0.0493)(969.3,0.0493)(970.3,0.0464)(971.3,0.0391)(972.3,0.0347)(973.4,0.0362)(974.4,0.0085)(975.4,0.0048)
(978.5,0.0048)(979.5,0.007)(980.5,0.0099)(981.5,0.0107)(982.5,0.0143)(983.6,0.0158)(984.6,0.0172)(985.6,0.0201)(986.6,0.0253)(987.6,0.0289)
(988.7,0.0347)(989.7,0.0377)(990.7,0.042)(991.7,0.0493)(992.7,0.0523)(993.8,0.0545)(994.4,0.0537)(995.2,0.045)(996.2,0.0289)(997.2,0.0085)
(998.2,0.0048)(1000,0.0048)
};
\end{axis}
\end{tikzpicture}
\end{document}
